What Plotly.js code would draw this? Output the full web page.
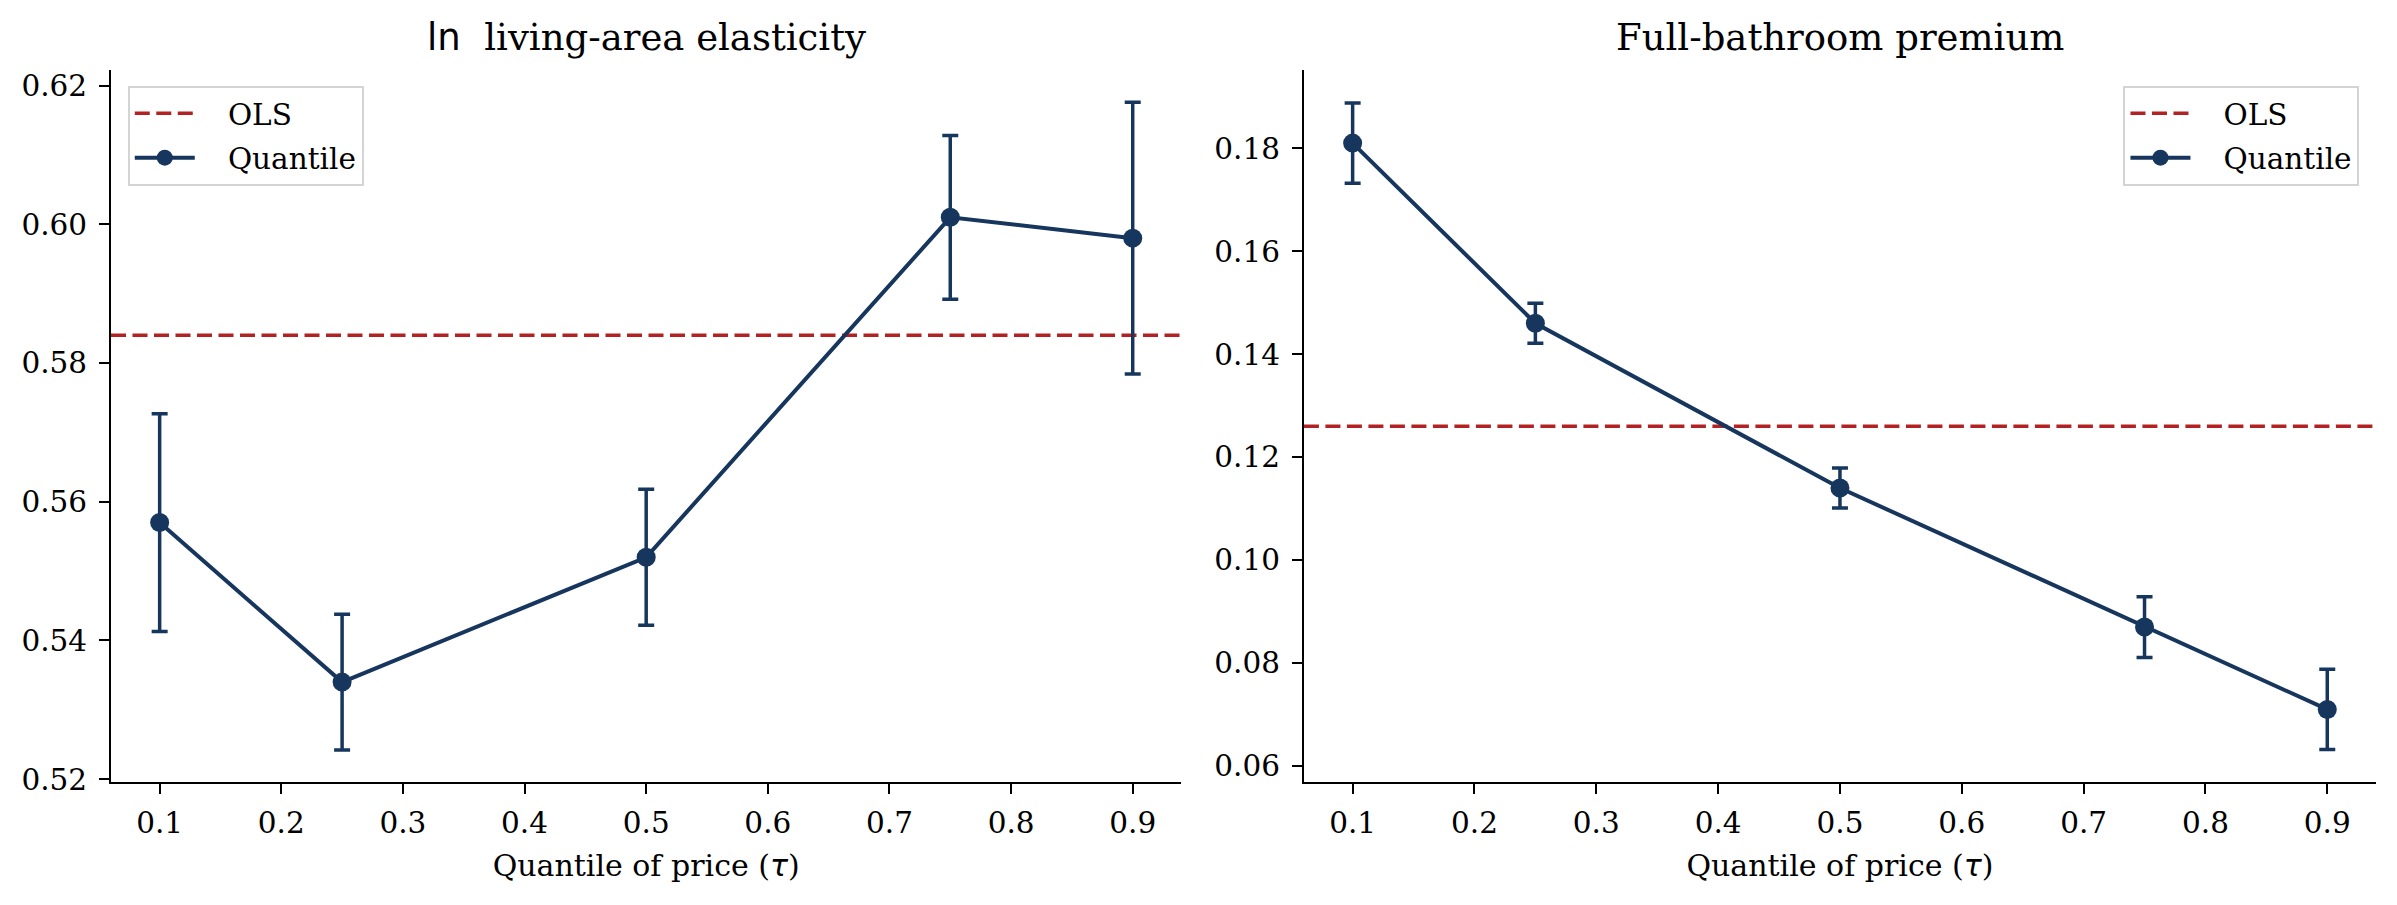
<!DOCTYPE html>
<html>
<head>
<meta charset="utf-8">
<script src="https://cdn.plot.ly/plotly-3.0.1.min.js"></script>
<style>html,body{margin:0;padding:0;background:#fff;}#chart{width:2397px;height:905px;}</style>
</head>
<body>
<div id="chart"></div>
<script>
// ---- data ----
const tau = [0.1, 0.25, 0.5, 0.75, 0.9];
const lnAreaCoef = [0.557, 0.534, 0.552, 0.601, 0.598];
const lnAreaErr = [0.0157, 0.0098, 0.0098, 0.0118, 0.0196];
const lnAreaOLS = 0.584;
const bathCoef = [0.181, 0.146, 0.114, 0.087, 0.071];
const bathErr = [0.0078, 0.0039, 0.0039, 0.0059, 0.0078];
const bathOLS = 0.126;
const xTickVals = [0.1, 0.2, 0.3, 0.4, 0.5, 0.6, 0.7, 0.8, 0.9];
const leftTitle = '<span style="font-family:DejaVu Sans">ln</span>\u00a0 living-area elasticity';
const rightTitle = 'Full-bathroom premium';
const xTitle = 'Quantile of price (<span style="font-family:DejaVu Sans"><i>\u03c4</i></span>)';
const seriesNames = ['OLS', 'Quantile'];

// ---- style ----
const navy = '#17365d';
const red = '#b22222';
const serif = 'DejaVu Serif';
const xRange = [0.06, 0.94];
const pad = '\u00a0\u00a0\u00a0';

function olsTrace(val, xa, ya, leg) {
  return {
    x: xRange, y: [val, val], xaxis: xa, yaxis: ya, legend: leg, legendgroup: leg + 'a',
    mode: 'lines', name: pad + seriesNames[0],
    line: {color: red, width: 3.5, dash: '15px,6.5px'},
    hoverinfo: 'skip'
  };
}
function qTrace(ys, errs, xa, ya, leg) {
  return {
    x: tau, y: ys, xaxis: xa, yaxis: ya, legend: leg, legendgroup: leg + 'b',
    mode: 'lines+markers', name: pad + seriesNames[1],
    line: {color: navy, width: 4},
    marker: {color: navy, size: 19},
    error_y: {type: 'data', array: errs, visible: true, color: navy, thickness: 3.5, width: 8}
  };
}

const traces = [
  olsTrace(lnAreaOLS, 'x', 'y', 'legend'),
  qTrace(lnAreaCoef, lnAreaErr, 'x', 'y', 'legend'),
  olsTrace(bathOLS, 'x2', 'y2', 'legend2'),
  qTrace(bathCoef, bathErr, 'x2', 'y2', 'legend2')
];

function xaxis(domain, anchor) {
  return {
    domain: domain, anchor: anchor, range: xRange, tickvals: xTickVals, tickformat: '.1f',
    showline: true, linecolor: '#000', linewidth: 2, mirror: false,
    ticks: 'outside', ticklen: 10, tickwidth: 2, tickcolor: '#000',
    showgrid: false, zeroline: false, automargin: false,
    tickfont: {family: serif, size: 29.5, color: '#000'},
    ticklabelstandoff: 4,
    title: {text: xTitle, font: {family: serif, size: 30, color: '#000'}, standoff: 16}
  };
}
function yaxis(range, anchor) {
  return {
    domain: [0, 1], anchor: anchor, range: range, dtick: 0.02, tick0: 0, tickformat: '.2f',
    showline: true, linecolor: '#000', linewidth: 2, mirror: false,
    ticks: 'outside', ticklen: 10, tickwidth: 2, tickcolor: '#000',
    showgrid: false, zeroline: false, automargin: false,
    tickfont: {family: serif, size: 29.5, color: '#000'},
    ticklabelstandoff: 6
  };
}

const legendStyle = {
  font: {family: serif, size: 29.5, color: '#000'},
  bgcolor: 'rgba(255,255,255,0.8)', bordercolor: '#d4d4d4', borderwidth: 2,
  yanchor: 'top', traceorder: 'grouped', itemwidth: 60, tracegroupgap: 3
};

const layout = {
  width: 2397, height: 905,
  margin: {l: 110.6, r: 20.5, t: 69.5, b: 123.3, pad: 0},
  paper_bgcolor: '#fff', plot_bgcolor: '#fff',
  showlegend: true,
  xaxis: xaxis([0, 0.47257], 'y'),
  yaxis: yaxis([0.5196, 0.62224], 'x'),
  xaxis2: xaxis([0.52667, 1], 'y2'),
  yaxis2: yaxis([0.0569, 0.1952], 'x2'),
  legend: Object.assign({}, legendStyle, {x: 0.0074, xanchor: 'left', y: 0.978}),
  legend2: Object.assign({}, legendStyle, {x: 0.9927, xanchor: 'right', y: 0.978}),
  annotations: [
    {text: leftTitle, xref: 'x domain', yref: 'paper', x: 0.5, y: 1, yanchor: 'bottom', yshift: 9,
     showarrow: false, font: {family: serif, size: 37, color: '#000'}},
    {text: rightTitle, xref: 'x2 domain', yref: 'paper', x: 0.5, y: 1, yanchor: 'bottom', yshift: 9,
     showarrow: false, font: {family: serif, size: 37, color: '#000'}}
  ]
};

Plotly.newPlot('chart', traces, layout, {displayModeBar: false, staticPlot: true});
</script>
</body>
</html>
